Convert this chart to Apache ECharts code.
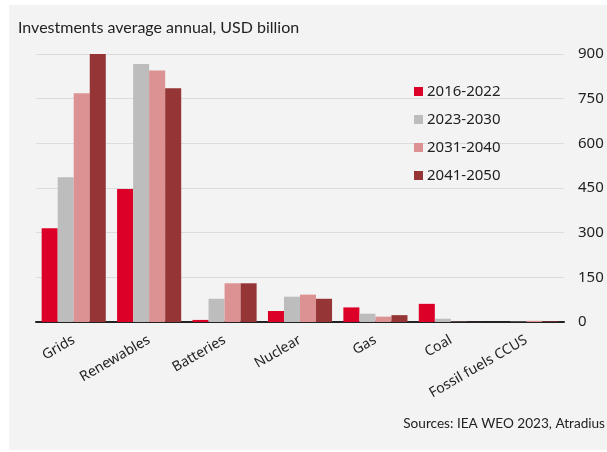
<!DOCTYPE html>
<html><head><meta charset="utf-8">
<script src="https://cdn.jsdelivr.net/npm/echarts@6/dist/echarts.min.js"></script>
<style>html,body{margin:0;padding:0;background:#fff;}#c{width:607px;height:452px;}</style>
</head><body><div id="c"></div>
<script>
const categories = ['Grids','Renewables','Batteries','Nuclear','Gas','Coal','Fossil fuels CCUS'];
const s2016 = [315, 447, 7, 37, 49, 61, 0];
const s2023 = [486, 866, 78, 85, 28, 11, 1];
const s2031 = [768, 845, 130, 92, 18, 1, 4];
const s2041 = [900, 785, 130, 78, 23, 0.5, 2];
const seriesNames = ['2016-2022','2023-2030','2031-2040','2041-2050'];
const colors = ['#dc0028','#bdbdbd','#dc9292','#963535'];
const FONT = '"Noto Sans", sans-serif';
const chart = echarts.init(document.getElementById('c'));
const data = [s2016, s2023, s2031, s2041];
chart.setOption({
  animation:false,
  color: colors,
  graphic:[
    {type:'rect', z:-10, shape:{x:9,y:5,width:598,height:445}, style:{fill:'#f3f3f3'}},
    {type:'text', left:18, top:20, style:{text:'Investments average annual, USD billion', font:'16px Lato, sans-serif', fill:'#222'}},
    {type:'text', right:2, top:417, style:{text:'Sources: IEA WEO 2023, Atradius', font:'13.6px Lato, sans-serif', fill:'#222'}}
  ],
  legend:{
    orient:'vertical', left:409, top:79, itemWidth:9, itemHeight:9, itemGap:13,
    icon:'rect', data: seriesNames,
    textStyle:{fontSize:15, fontFamily:FONT, color:'#222', padding:[0,0,0,-1]}
  },
  grid:{left:36, right:43, top:54, bottom:130, containLabel:false},
  xAxis:{
    type:'category', data:categories,
    axisLine:{lineStyle:{color:'#222', width:2}},
    axisTick:{show:false},
    axisLabel:{rotate:30, interval:0, fontSize:14, fontFamily:FONT, color:'#222', margin:17}
  },
  yAxis:{
    type:'value', position:'right', min:0, max:900, interval:150,
    axisLine:{show:false}, axisTick:{show:false},
    splitLine:{lineStyle:{color:'#dcdcdc', width:1}},
    axisLabel:{fontSize:15, fontFamily:FONT, color:'#222', margin:14}
  },
  series: data.map((d,i)=>({
    name: seriesNames[i], type:'bar', data:d, barGap:'0%', barCategoryGap:'15%'
  }))
});
</script></body></html>
